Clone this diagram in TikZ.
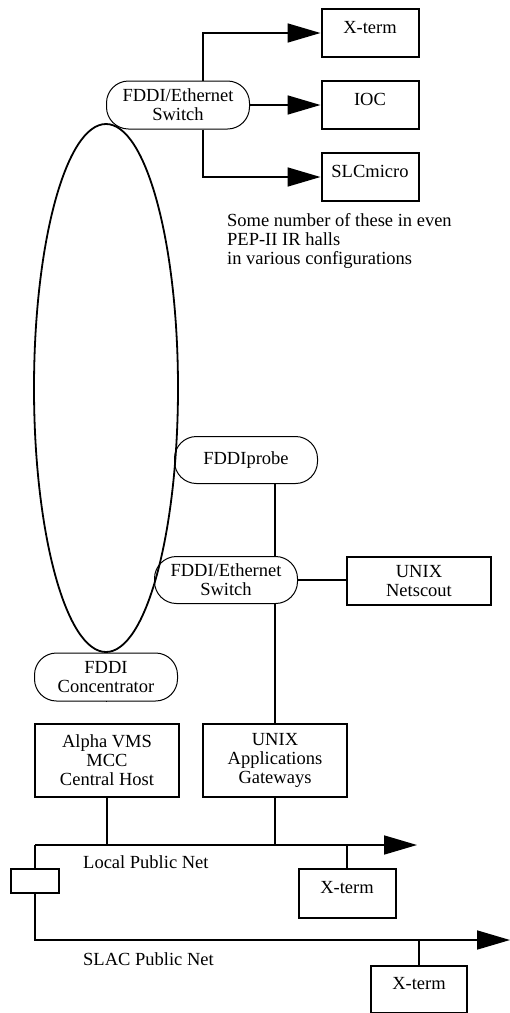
\documentclass[tikz,border=0pt]{standalone}
\usepackage{fontspec}
\setmainfont{Liberation Serif}
\usetikzlibrary{arrows.meta}
\begin{document}
\begin{tikzpicture}[x=1pt,y=-1pt,
  txt/.style={font=\fontsize{18.5pt}{19pt}\selectfont, inner sep=0pt},
  box/.style={txt, draw, line width=2pt, align=center},
  onebox/.style={box, text height=12pt, text depth=12pt},
  rnd/.style={txt, draw, line width=1pt, rounded corners=22pt, align=center,
              minimum width=143pt, minimum height=47pt},
  conn/.style={line width=1.7pt},
  arr/.style={conn, -{Triangle[length=33pt,width=19pt]}}
]
\useasboundingbox (0,0) rectangle (510,1013);

% FDDI ring
\draw[line width=1.8pt] (106,388) ellipse [x radius=72, y radius=264];

% top section
\node[onebox, minimum width=97pt, minimum height=48pt] (xt1) at (370,33) {X-term};
\node[onebox, minimum width=97pt, minimum height=48pt] (ioc) at (370,105) {IOC};
\node[onebox, minimum width=97pt, minimum height=48pt] (slc) at (370,177) {SLCmicro};
\node[rnd, minimum height=48pt] (sw1) at (178,105) {FDDI/Ethernet\\Switch};
\node[txt, anchor=north west, align=left] (note) at (227,213)
  {Some number of these in even\\PEP-II IR halls\\in various configurations};

\draw[arr] ([xshift=25pt]sw1.north) |- (xt1.west);
\draw[arr] (sw1.east) -- (ioc.west);
\draw[arr] ([xshift=25pt]sw1.south) |- (slc.west);

% middle section
\node[rnd] (probe) at (246,460) {FDDIprobe};
\node[rnd] (sw2) at (226,580) {FDDI/Ethernet\\Switch};
\node[box, minimum width=144pt, minimum height=48pt] (ns) at (419,581) {UNIX\\Netscout};
\node[rnd, minimum height=48pt] (conc) at (106,677) {FDDI\\Concentrator};
\node[box, minimum width=144pt, minimum height=73pt] (alpha) at (107,760) {Alpha VMS\\MCC\\Central Host};
\node[box, minimum width=144pt, minimum height=73pt] (app) at (275,760) {UNIX\\Applications\\Gateways};

\draw[conn] (probe.south -| app.north) -- (sw2.north -| app.north);
\draw[conn] (sw2.south -| app.north) -- (app.north);
\draw[conn] (sw2.east) -- (sw2.east -| ns.west);
\draw[conn] (conc.south) -- (conc.south -| alpha.north);

% public nets
\coordinate (lpL) at (35,845);
\coordinate (lpR) at (417,845);
\coordinate (spR) at (510,940);
\node[box, minimum width=48pt, minimum height=24pt] (sb) at (35,881) {};
\node[onebox, minimum width=97pt, minimum height=49pt] (xt3) at (347,893) {X-term};
\node[onebox, minimum width=96pt, minimum height=47pt] (xt4) at (419,989) {X-term};

\draw[arr] (lpL) -- (lpR);
\draw[conn] (alpha.south) -- (alpha.south |- lpL);
\draw[conn] (app.south) -- (app.south |- lpL);
\draw[conn] (xt3.north) -- (xt3.north |- lpL);
\draw[conn] (lpL) -- (sb.north);
\draw[arr] (sb.south) |- (spR);
\draw[conn] (xt4.north) -- (xt4.north |- spR);

\node[txt, anchor=base west] (lpn) at (83,868) {Local Public Net};
\node[txt, anchor=base west] (spn) at (83,965) {SLAC Public Net};
\end{tikzpicture}
\end{document}
